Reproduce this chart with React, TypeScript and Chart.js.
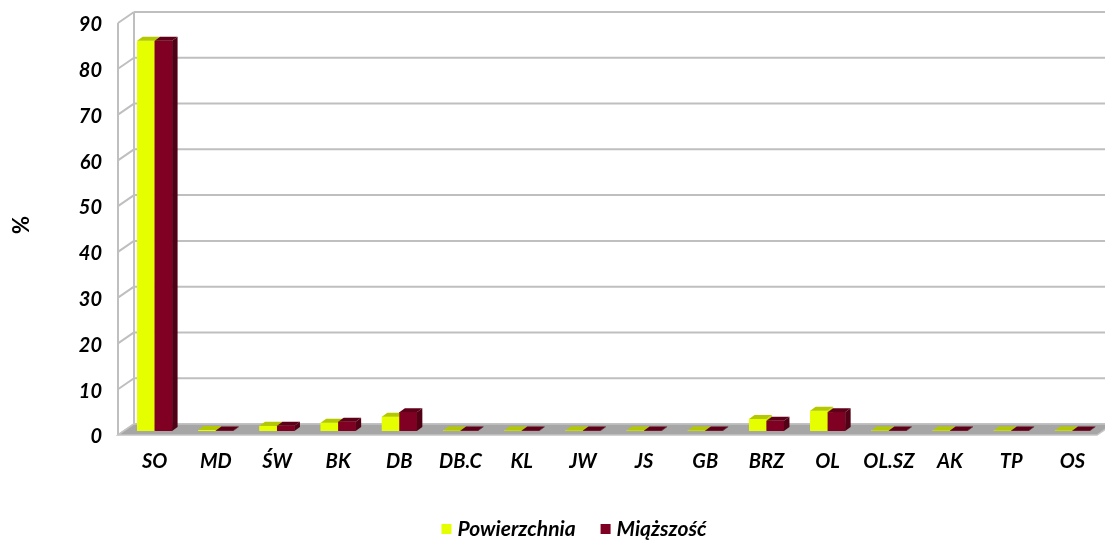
import React, { useEffect, useRef } from "react";
import { Chart, registerables } from "chart.js";

Chart.register(...registerables);

const categories = ["SO", "MD", "ŚW", "BK", "DB", "DB.C", "KL", "JW", "JS", "GB", "BRZ", "OL", "OL.SZ", "AK", "TP", "OS"];
const powierzchnia = [85.2, 0.2, 1.1, 1.8, 3.1, 0.1, 0.1, 0.1, 0.1, 0.1, 2.6, 4.4, 0.1, 0.1, 0.1, 0.1];
const miazszosc = [85.2, 0.1, 1.1, 2.0, 4.1, 0.1, 0.1, 0.1, 0.1, 0.1, 2.2, 4.1, 0.1, 0.1, 0.1, 0.1];
const seriesNames = ["Powierzchnia", "Miąższość"];
const yTicks = [0, 10, 20, 30, 40, 50, 60, 70, 80, 90];
const yTitle = "%";

const FONT = "Lato, 'Open Sans', sans-serif";
const colors = [
  { front: "#e6ff00", top: "#b4c800", side: "#c2d600" },
  { front: "#7f0022", top: "#5f0019", side: "#520015" },
];

const FRONT = { dx: -6, dy: 4.1 };
const BACK = { dx: 10, dy: -6.9 };
const BAR_D = { dx: 5.5, dy: -4 };

const excel3d = {
  id: "excel3d",
  beforeDatasetsDraw(chart: any) {
    const ctx = chart.ctx;
    const ys = chart.scales.y;
    const ca = chart.chartArea;
    const xLF = ca.left + FRONT.dx, xRF = ca.right + FRONT.dx;
    const xLB = ca.left + BACK.dx, xRB = ca.right + BACK.dx;
    const yF = (v: number) => ys.getPixelForValue(v) + FRONT.dy;
    const yB = (v: number) => ys.getPixelForValue(v) + BACK.dy;
    const top = yTicks[yTicks.length - 1];
    ctx.save();
    ctx.strokeStyle = "#bfbfbf";
    ctx.lineWidth = 2;
    for (const v of yTicks) {
      ctx.beginPath();
      ctx.moveTo(xLB, yB(v));
      ctx.lineTo(xRB + 20, yB(v));
      ctx.stroke();
    }
    ctx.beginPath();
    ctx.moveTo(xLF, yF(0));
    ctx.lineTo(xLF, yF(top));
    ctx.moveTo(xLB, yB(0));
    ctx.lineTo(xLB, yB(top));
    for (const v of yTicks) {
      ctx.moveTo(xLF, yF(v));
      ctx.lineTo(xLB, yB(v));
    }
    ctx.stroke();
    ctx.beginPath();
    ctx.moveTo(xLF, yF(0));
    ctx.lineTo(xRF, yF(0));
    ctx.lineTo(xRB, yB(0));
    ctx.lineTo(xLB, yB(0));
    ctx.closePath();
    ctx.fillStyle = "#a6a6a6";
    ctx.fill();
    ctx.lineWidth = 1.5;
    ctx.strokeStyle = "#c4c4c4";
    ctx.stroke();
    ctx.restore();
  },
  afterDatasetsDraw(chart: any) {
    const ctx = chart.ctx;
    ctx.save();
    for (let i = 0; i < categories.length; i++) {
      for (let d = 0; d < chart.data.datasets.length; d++) {
        const el = chart.getDatasetMeta(d).data[i];
        const { x, y, base, width } = el.getProps(["x", "y", "base", "width"], true);
        const xl = x - width / 2, xr = x + width / 2;
        const c = colors[d];
        ctx.fillStyle = c.front;
        ctx.fillRect(xl, y, width, base - y);
        ctx.beginPath();
        ctx.moveTo(xl, y);
        ctx.lineTo(xr, y);
        ctx.lineTo(xr + BAR_D.dx, y + BAR_D.dy);
        ctx.lineTo(xl + BAR_D.dx, y + BAR_D.dy);
        ctx.closePath();
        ctx.fillStyle = c.top;
        ctx.fill();
        ctx.beginPath();
        ctx.moveTo(xr, y);
        ctx.lineTo(xr + BAR_D.dx, y + BAR_D.dy);
        ctx.lineTo(xr + BAR_D.dx, base + BAR_D.dy);
        ctx.lineTo(xr, base);
        ctx.closePath();
        ctx.fillStyle = c.side;
        ctx.fill();
      }
    }
    ctx.restore();
  },
  afterDraw(chart: any) {
    const ctx = chart.ctx;
    ctx.save();
    ctx.font = `italic bold 21px ${FONT}`;
    ctx.textBaseline = "middle";
    ctx.textAlign = "left";
    const box = 10, gap = 6, between = 25;
    const widths = seriesNames.map((s) => ctx.measureText(s).width);
    const total = widths.reduce((a, w) => a + box + gap + w, 0) + between * (seriesNames.length - 1);
    let x = 574 - total / 2;
    const yc = 529;
    seriesNames.forEach((s, k) => {
      ctx.fillStyle = colors[k].front;
      ctx.fillRect(x, yc - box / 2, box, box);
      ctx.fillStyle = "#000";
      ctx.fillText(s, x + box + gap, yc);
      x += box + gap + widths[k] + between;
    });
    ctx.restore();
  },
};

export default function App() {
  const ref = useRef<HTMLCanvasElement>(null);
  useEffect(() => {
    if (!ref.current) return;
    const tickFont = { family: FONT, size: 20, weight: "bold" as const, style: "italic" as const };
    const chart = new Chart(ref.current, {
      type: "bar",
      data: {
        labels: categories,
        datasets: [
          { label: seriesNames[0], data: powierzchnia, backgroundColor: colors[0].front, yAxisID: "y", categoryPercentage: 0.572, barPercentage: 1 },
          { label: seriesNames[1], data: miazszosc, backgroundColor: colors[1].front, yAxisID: "y", categoryPercentage: 0.572, barPercentage: 1 },
        ],
      },
      options: {
        responsive: false,
        animation: false,
        layout: { padding: { left: 0, top: 18.9, right: 2, bottom: 0 } },
        plugins: { legend: { display: false }, tooltip: { enabled: false } },
        scales: {
          x: {
            type: "category",
            grid: { display: false, drawTicks: false },
            border: { display: false },
            ticks: { font: tickFont, color: "#000", padding: 19, maxRotation: 0, autoSkip: false },
            afterFit: (s: any) => { s.height = 111.1; s.paddingLeft = 0; s.paddingRight = 0; },
          },
          y: { display: false, min: 0, max: 90 },
          yAxis: {
            type: "linear",
            position: "left",
            min: 1.31,
            max: 91.31,
            grid: { display: false, drawTicks: false },
            border: { display: false },
            afterBuildTicks: (s: any) => { s.ticks = yTicks.map((v) => ({ value: v })); },
            ticks: { font: tickFont, color: "#000", padding: 22, autoSkip: false },
            title: { display: true, text: yTitle, font: { family: FONT, size: 22, weight: "bold" }, color: "#000", padding: { top: 8.5, bottom: 0 } },
            afterFit: (s: any) => { s.width = 124; s.paddingTop = 0; s.paddingBottom = 0; },
          },
        },
      },
      plugins: [excel3d],
    });
    return () => chart.destroy();
  }, []);
  return (
    <canvas ref={ref} width={1105} height={542} style={{ position: "absolute", left: 0, top: 0, width: 1105, height: 542 }} />
  );
}
